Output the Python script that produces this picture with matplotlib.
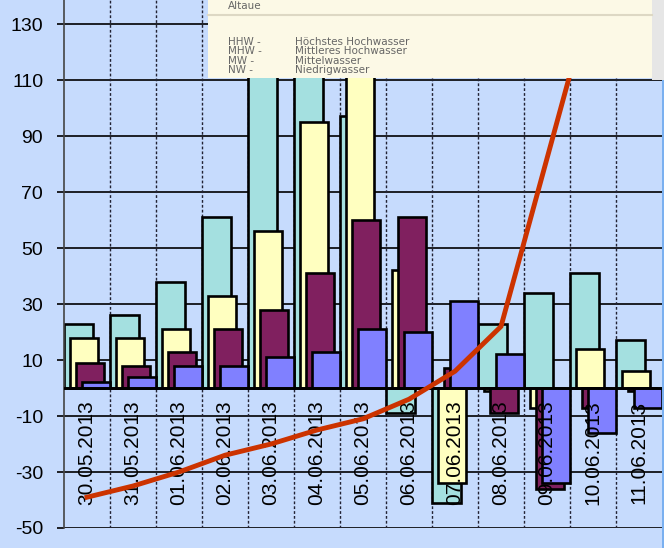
import numpy as np
import matplotlib
matplotlib.use("Agg")
import matplotlib.pyplot as plt
from matplotlib.patches import Rectangle
from matplotlib.lines import Line2D

# --- data ---
dates = ["30.05.2013", "31.05.2013", "01.06.2013", "02.06.2013", "03.06.2013",
         "04.06.2013", "05.06.2013", "06.06.2013", "07.06.2013", "08.06.2013",
         "09.06.2013", "10.06.2013", "11.06.2013"]
cyan_vals   = [23, 26, 38, 61, 120, 125, 97, -9, -41, 23, 34, 41, 17]
yellow_vals = [18, 18, 21, 33, 56, 95, 130, 42, -34, -1, -7, 14, 6]
purple_vals = [9, 8, 13, 21, 28, 41, 60, 61, 7, -9, -36, -7, -1]
blue_vals   = [2, 4, 8, 8, 11, 13, 21, 20, 31, 12, -34, -16, -7]
line_vals   = [-39, -35, -30, -24, -20, -15, -11, -4, 6, 22, 82, 142, 175]
yticks = list(range(-50, 131, 20))

legend_title = "Altaue"
legend_abbr = ["HHW -", "MHW -", "MW -", "NW -"]
legend_text = ["Höchstes Hochwasser", "Mittleres Hochwasser", "Mittelwasser", "Niedrigwasser"]

bg = "#C6DBFD"
W, H = 664, 548

fig = plt.figure(figsize=(W / 100, H / 100), dpi=100, facecolor=bg)
ax = fig.add_axes([64 / W, 20 / H, 598 / W, 528 / H])
ax.set_facecolor(bg)

n = len(dates)
x = np.arange(n)
bw = 0.62
off = 0.127

# grid
for v in yticks:
    ax.axhline(v, color="black", lw=1.2, zorder=0.5)
for i in range(1, n):
    ax.axvline(i, color="#222233", lw=1, ls=(0, (2, 1.5)), zorder=0.5)

series = [(cyan_vals, "#A4E0E0"), (yellow_vals, "#FFFFC0"),
          (purple_vals, "#80205F"), (blue_vals, "#8080FF")]
for k, (vals, col) in enumerate(series):
    ax.bar(x + k * off, vals, width=bw, align="edge", color=col,
           edgecolor="black", linewidth=1.9, zorder=2 + k)

ax.axhline(0, color="black", lw=2, zorder=6)

for i, d in enumerate(dates):
    ax.text(i + 0.5, -4.5, d, rotation=90, ha="center", va="top",
            fontsize=15, family="Liberation Sans", zorder=7)

ax.plot(x + 0.5, line_vals, color="#CC3300", lw=3.5, zorder=8,
        solid_joinstyle="miter")

ax.set_xlim(0, n)
ax.set_ylim(-50, 138.6)
ax.set_xticks([])
ax.set_yticks(yticks)
ax.set_yticklabels([str(v) for v in yticks], fontsize=14, family="Liberation Sans")
ax.tick_params(axis="y", length=5, width=1.2, pad=10, color="black")
for s in ["top", "right", "bottom"]:
    ax.spines[s].set_visible(False)
ax.spines["left"].set_color("#444444")
ax.spines["left"].set_linewidth(1.2)

# legend panel overlay (top right)
def fx(px):
    return px / W

def fy(py):
    return 1 - py / H

fig.add_artist(Rectangle((fx(208), fy(78)), fx(652) - fx(208), fy(0) - fy(78),
                         transform=fig.transFigure, facecolor="#FCF9E6",
                         edgecolor="none", zorder=10))
fig.add_artist(Rectangle((fx(652), fy(80)), fx(664) - fx(652), fy(0) - fy(80),
                         transform=fig.transFigure, facecolor="#E6E6E6",
                         edgecolor="none", zorder=10))
fig.add_artist(Rectangle((fx(662), 0), fx(664) - fx(662), fy(80),
                         transform=fig.transFigure, facecolor="#7AB0F0",
                         edgecolor="none", zorder=10))
fig.add_artist(Line2D([fx(208), fx(652)], [fy(15), fy(15)],
                      transform=fig.transFigure, color="#DDD8C4", lw=1.5, zorder=11))
fig.text(fx(228), fy(6), legend_title, fontsize=7.5, color="#666666",
         va="center", ha="left", zorder=12)
for j, (a, t) in enumerate(zip(legend_abbr, legend_text)):
    yy = fy(42 + j * 9.4)
    fig.text(fx(228), yy, a, fontsize=7.5, color="#666666", va="center", ha="left", zorder=12)
    fig.text(fx(295), yy, t, fontsize=7.5, color="#666666", va="center", ha="left", zorder=12)

fig.savefig("out.png", dpi=100, facecolor=bg)
